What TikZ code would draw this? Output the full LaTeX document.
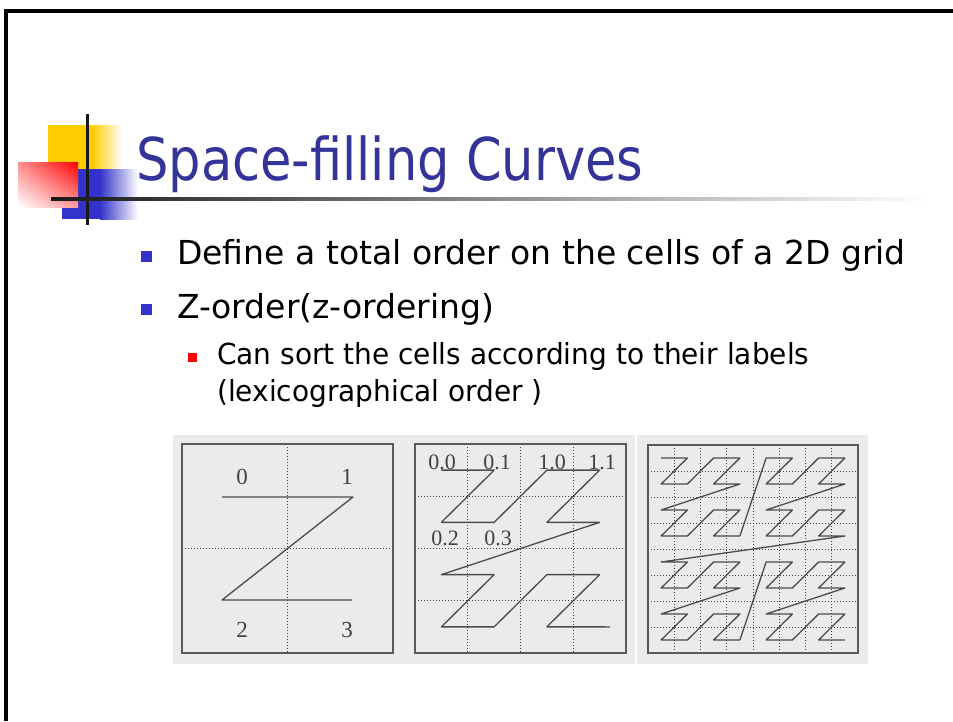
\documentclass[tikz,border=0pt]{standalone}
\usepackage{fontspec}
\usetikzlibrary{shadings}
\setmainfont{DejaVu Sans}
\newfontfamily\titlefont{DejaVu Sans}[FakeStretch=0.866]
\newfontfamily\subfont{DejaVu Sans}[FakeStretch=0.965]
\newfontfamily\scanfont{Liberation Serif}
\definecolor{titleblue}{HTML}{333399}
\definecolor{bulletblue}{HTML}{3333CC}
\definecolor{logoyellow}{HTML}{FFCC00}
\definecolor{scanbg}{HTML}{EBEBEB}
\tikzset{
  scanline/.style={black!70, line width=1.3pt, line join=round},
  scangrid/.style={black!75, dotted, line width=1pt},
  scanframe/.style={black!65, line width=1.5pt},
  celllabel/.style={inner sep=0pt, text=black!75, font=\scanfont\fontsize{23}{23}\selectfont},
  bullettext/.style={anchor=base west, inner sep=0pt, font=\fontsize{33}{40}\selectfont},
  subtext/.style={anchor=base west, inner sep=0pt, font=\subfont\fontsize{29}{35}\selectfont},
}
\begin{document}
\begin{tikzpicture}[x=1pt, y=-1pt]
  \useasboundingbox (0,0) rectangle (953,721);
  \fill[white] (0,0) rectangle (953,721);

  % slide border
  \draw[line width=3.5pt] (6,721) -- (6,11) -- (953,11);

  % logo
  \fill[logoyellow] (48,125) rectangle (92,175);
  \shade[left color=logoyellow, right color=white] (92,125) rectangle (122,175);
  \fill[bulletblue] (62,169) rectangle (100,219);
  \shade[left color=bulletblue, right color=white] (100,169) rectangle (138,219);
  \shade[upper right=red, upper left=red!45, lower right=red!40, lower left=white] (18,162) rectangle (78,207);
  \draw[line width=3pt, black!90] (87,114) -- (87,225);
  \shade[left color=black!90, middle color=black!25, right color=white] (51,197.5) rectangle (930,200.5);

  % title and bullets
  \node[anchor=base west, inner sep=0pt, text=titleblue, font=\titlefont\fontsize{59}{70}\selectfont] (title) at (136,180) {Space-filling Curves};

  \fill[bulletblue] (141,251) rectangle (152,262);
  \node[bullettext] (define) at (177,264) {Define a total order on the cells of a 2D grid};
  \fill[bulletblue] (141,304) rectangle (152,315);
  \node[bullettext] (zorder) at (177,318) {Z-order(z-ordering)};
  \fill[red] (188,353) rectangle (197,362);
  \node[subtext] (sort) at (217,364) {Can sort the cells according to their labels};
  \node[subtext] (lexi) at (217,401) {(lexicographical order )};

  % scanned figures: backgrounds
  \fill[scanbg] (173,435) rectangle (410,664);
  \fill[scanbg] (410,435) rectangle (635,664);
  \fill[scanbg] (637,435) rectangle (868,664);

  % first figure, 2x2
  \draw[scangrid] (287,444) -- (287,653);
  \draw[scangrid] (182,548) -- (393,548);
  \draw[scanframe] (182,444) rectangle (393,653);
  \draw[scanline] (222,497) -- (353,497) -- (222,600) -- (352,600);
  \node[celllabel] (c0) at (242,477) {0};
  \node[celllabel] (c1) at (347,477) {1};
  \node[celllabel] (c2) at (242,630) {2};
  \node[celllabel] (c3) at (347,630) {3};

  % second figure, 4x4
  \foreach \k in {1,2,3} {
    \draw[scangrid] ({415+52.75*\k},444) -- ({415+52.75*\k},653);
    \draw[scangrid] (415,{444+52.25*\k}) -- (626,{444+52.25*\k});
  }
  \draw[scanframe] (415,444) rectangle (626,653);
  \draw[scanline] (441.4,470.1) \foreach \i in {1,...,15} {
    -- ({415+52.75*(mod(\i,2)+2*mod(div(\i,4),2)+0.5)}, {444+52.25*(mod(div(\i,2),2)+2*mod(div(\i,8),2)+0.5)})
  } -- (610,626.9);
  \begin{scope}[celllabel, font=\scanfont\fontsize{22}{22}\selectfont]
    \node (l00) at (442,462) {0.0};
    \node (l01) at (497,462) {0.1};
    \node (l10) at (552,462) {1.0};
    \node (l11) at (602,462) {1.1};
    \node (l02) at (445,538) {0.2};
    \node (l03) at (498,538) {0.3};
  \end{scope}

  % third figure, 8x8
  \foreach \k in {1,...,7} {
    \draw[scangrid] ({648+26.25*\k},445) -- ({648+26.25*\k},653);
    \draw[scangrid] (648,{445+26*\k}) -- (858,{445+26*\k});
  }
  \draw[scanframe] (648,445) rectangle (858,653);
  \draw[scanline] (661.1,458) \foreach \i in {1,...,63} {
    -- ({648+26.25*(mod(\i,2)+2*mod(div(\i,4),2)+4*mod(div(\i,16),2)+0.5)}, {445+26*(mod(div(\i,2),2)+2*mod(div(\i,8),2)+4*mod(div(\i,32),2)+0.5)})
  };
\end{tikzpicture}
\end{document}
